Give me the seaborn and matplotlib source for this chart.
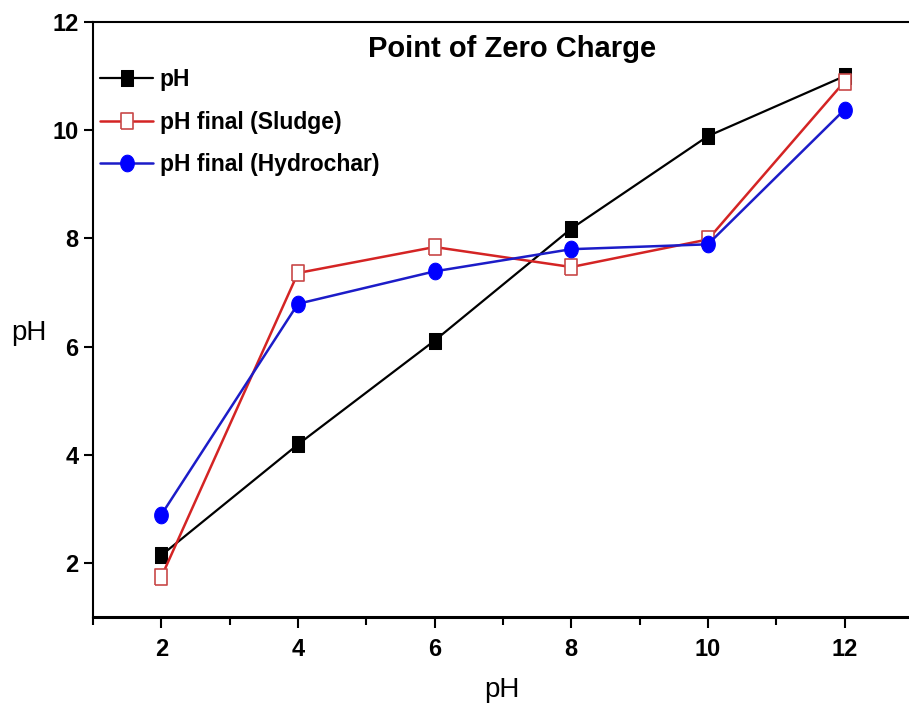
import numpy as np
import pandas as pd
import matplotlib
matplotlib.use("Agg")
import matplotlib.pyplot as plt
from matplotlib.ticker import MultipleLocator
import seaborn as sns

# Données
ph_initial = [2, 4, 6, 8, 10, 12]
ph_mesure = [2.14, 4.19, 6.11, 8.18, 9.89, 11.0]
ph_sludge = [1.74, 7.36, 7.84, 7.47, 7.98, 10.9]
ph_hydrochar = [2.89, 6.79, 7.39, 7.80, 7.89, 10.38]

x_ticks = [2, 4, 6, 8, 10, 12]
y_ticks = [2, 4, 6, 8, 10, 12]

sns.set_theme(style="white")
plt.rcParams['font.family'] = ['Liberation Sans', 'DejaVu Sans']
plt.rcParams['text.color'] = 'black'
plt.rcParams['axes.labelcolor'] = 'black'
plt.rcParams['xtick.color'] = 'black'
plt.rcParams['ytick.color'] = 'black'

# Marqueurs un peu étirés en hauteur comme sur l'original
rect = [(-0.8, -1), (0.8, -1), (0.8, 1), (-0.8, 1), (-0.8, -1)]
t = np.linspace(0, 2 * np.pi, 40)
ellipse = list(zip(0.82 * np.cos(t), np.sin(t)))

fig = plt.figure(figsize=(9.09, 7.10), dpi=100)
ax = fig.add_axes([0.1023, 0.131, 0.902, 0.838])

sns.lineplot(x=ph_initial, y=ph_mesure, ax=ax, color='black', lw=1.6,
             marker=rect, markersize=11, markerfacecolor='black',
             markeredgecolor='black', label='pH')
sns.lineplot(x=ph_initial, y=ph_sludge, ax=ax, color='#d42424', lw=1.8,
             marker=rect, markersize=11, markerfacecolor='white',
             markeredgecolor='#c84848', markeredgewidth=1.2,
             label='pH final (Sludge)')
sns.lineplot(x=ph_initial, y=ph_hydrochar, ax=ax, color='#1c1cc8', lw=1.8,
             marker=ellipse, markersize=12, markerfacecolor='#0000ff',
             markeredgecolor='#0000ff', label='pH final (Hydrochar)')

ax.set_xlim(1, 13)
ax.set_ylim(1, 12)
ax.set_xticks(x_ticks)
ax.set_yticks(y_ticks)
ax.xaxis.set_minor_locator(MultipleLocator(1))
ax.tick_params(axis='x', which='major', direction='out', length=8, width=1.5,
               pad=7, labelsize=17, bottom=True)
ax.tick_params(axis='x', which='minor', direction='out', length=6, width=1.5,
               bottom=True)
ax.tick_params(axis='y', which='major', direction='out', length=6.5, width=1.5,
               pad=4, labelsize=17, left=True)
for lab in ax.get_xticklabels() + ax.get_yticklabels():
    lab.set_fontweight('bold')

for side in ['left', 'top', 'right']:
    ax.spines[side].set_linewidth(1.5)
    ax.spines[side].set_color('black')
ax.spines['bottom'].set_linewidth(2.2)
ax.spines['bottom'].set_color('black')

ax.set_xlabel('pH', fontsize=20, va='center')
ax.set_ylabel('pH', fontsize=20, rotation=0, ha='center', va='center')
ax.xaxis.set_label_coords(0.499, -0.123)
ax.yaxis.set_label_coords(-0.078, 0.477)

ax.text(0.511, 0.955, 'Point of Zero Charge', transform=ax.transAxes,
        ha='center', va='center', fontsize=21, fontweight='bold')

leg = ax.legend(loc='upper left', bbox_to_anchor=(-0.008, 0.945), frameon=False,
                prop={'size': 16.5, 'weight': 'bold'}, handlelength=2.3,
                handletextpad=0.3, labelspacing=0.85, borderaxespad=0.2)

fig.savefig('out.png', dpi=100)
